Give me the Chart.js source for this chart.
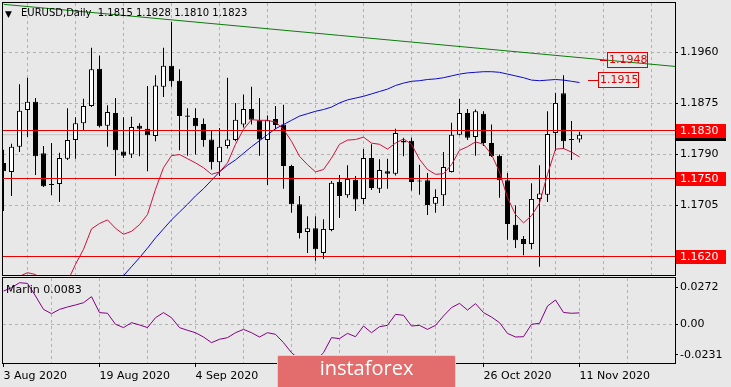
<!DOCTYPE html>
<html><head><meta charset="utf-8">
<script src="https://cdn.jsdelivr.net/npm/chart.js@4.4.1/dist/chart.umd.min.js"></script>
<style>
html,body{margin:0;padding:0;background:#e8e8e8;width:731px;height:387px;overflow:hidden;position:relative;}
canvas{position:absolute;left:0;}
#main{top:0}
#sub{top:276px}
.t{position:absolute;font-family:"DejaVu Sans",sans-serif;color:#000;white-space:pre;}
#wm{position:absolute;left:277px;top:355px;width:177px;height:36px;background:#e36c6c;border:1px solid #f3c9c9;border-radius:2px;}
#wmt{position:absolute;left:277px;top:357px;width:179px;text-align:center;font:20px "Open Sans",sans-serif;line-height:22px;color:#fff;}
</style></head>
<body>
<canvas id="main" width="731" height="276"></canvas>
<canvas id="sub" width="731" height="111"></canvas>
<div class="t" style="left:5px;top:8px;font-size:9px;line-height:12px;">▼</div>
<div class="t" id="title" style="left:21px;top:7px;font-size:10px;line-height:12px;"></div>
<div class="t" id="mlab" style="left:6px;top:283px;font-size:11px;line-height:13px;"></div>
<div id="wm"></div>
<div id="wmt">instaforex</div>
<script>
// ---------------- data ----------------
const symbol = 'EURUSD,Daily';
const opens = [1.1776,1.1761,1.1803,1.1864,1.1878,1.1792,1.1739,1.1741,1.1783,1.1814,
1.1842,1.1871,1.1933,1.1838,1.1859,1.1795,1.1790,1.1838,1.1833,1.1821,
1.1903,1.1938,1.1913,1.1855,1.1851,1.1841,1.1815,1.1777,1.1804,1.1814,
1.1840,1.1866,1.1847,1.1814,1.1849,1.1840,1.1771,1.1707,1.1661,1.1667,
1.1626,1.1664,1.1744,1.1722,1.1748,1.1716,1.1784,1.1733,1.1762,1.1758,
1.1813,1.1813,1.1745,1.1747,1.1708,1.1722,1.1761,1.1823,1.1859,1.1819,
1.1858,1.1809,1.1788,1.1747,1.1673,1.1649,1.1641,1.1716,1.1723,1.1826,
1.1892,1.1816,1.1815];
const highs = [1.1798,1.1808,1.1907,1.1918,1.1884,1.1804,1.1809,1.1793,1.1867,1.1852,
1.1883,1.1968,1.1955,1.1872,1.1884,1.1852,1.1853,1.1842,1.1904,1.1922,
1.1968,1.2011,1.1932,1.1867,1.1867,1.1850,1.1829,1.1834,1.1918,1.1876,
1.1890,1.1903,1.1884,1.1855,1.1871,1.1873,1.1773,1.1721,1.1687,1.1687,
1.1682,1.1746,1.1756,1.1772,1.1754,1.1799,1.1807,1.1782,1.1783,1.1833,
1.1818,1.1818,1.1773,1.1759,1.1732,1.1794,1.1843,1.1883,1.1866,1.1865,
1.1862,1.1840,1.1790,1.1759,1.1705,1.1654,1.1742,1.1772,1.1862,1.1893,
1.1922,1.1846,1.1828];
const lows = [1.1696,1.1721,1.1794,1.1819,1.1756,1.1736,1.1722,1.1711,1.1781,1.1783,
1.1829,1.1869,1.1835,1.1803,1.1754,1.1784,1.1784,1.1787,1.1762,1.1812,
1.1886,1.1903,1.1797,1.1788,1.1790,1.1803,1.1765,1.1754,1.1800,1.1812,
1.1835,1.1840,1.1788,1.1739,1.1832,1.1733,1.1693,1.1650,1.1626,1.1613,
1.1616,1.1662,1.1684,1.1718,1.1696,1.1707,1.1731,1.1726,1.1733,1.1755,
1.1787,1.1730,1.1723,1.1689,1.1693,1.1704,1.1760,1.1822,1.1814,1.1788,
1.1804,1.1786,1.1718,1.1648,1.1634,1.1622,1.1632,1.1603,1.1711,1.1796,
1.1799,1.1781,1.1810];
const closes = [1.1762,1.1803,1.1863,1.1878,1.1787,1.1737,1.1740,1.1784,1.1814,1.1842,
1.1871,1.1932,1.1837,1.1861,1.1797,1.1788,1.1836,1.1833,1.1822,1.1905,
1.1938,1.1912,1.1854,1.1853,1.1837,1.1814,1.1777,1.1803,1.1815,1.1848,
1.1866,1.1848,1.1815,1.1847,1.1839,1.1771,1.1707,1.1659,1.1667,1.1632,
1.1666,1.1743,1.1721,1.1749,1.1715,1.1784,1.1734,1.1764,1.1758,1.1826,
1.1810,1.1744,1.1746,1.1706,1.1719,1.1769,1.1823,1.1859,1.1818,1.1862,
1.1809,1.1787,1.1747,1.1674,1.1647,1.1641,1.1716,1.1725,1.1824,1.1876,
1.1812,1.1814,1.1823];
const redMA = [1.1565,1.1576,1.1587,1.1593,1.1590,1.1579,1.1566,1.1562,1.1578,1.1607,
1.1632,1.1666,1.1675,1.1681,1.1667,1.1657,1.1662,1.1673,1.1690,1.1732,
1.1768,1.1788,1.1790,1.1783,1.1776,1.1768,1.1757,1.1761,1.1776,1.1807,
1.1832,1.1848,1.1847,1.1847,1.1844,1.1832,1.1812,1.1787,1.1773,1.1761,
1.1765,1.1784,1.1807,1.1814,1.1815,1.1819,1.1809,1.1807,1.1799,1.1809,
1.1816,1.1807,1.1782,1.1765,1.1757,1.1758,1.1773,1.1797,1.1803,1.1811,
1.1807,1.1790,1.1761,1.1718,1.1690,1.1676,1.1688,1.1709,1.1757,1.1799,
1.1800,1.1794,1.1786];
const blueMA = [null,null,null,null,null,null,null,null,null,null,
null,null,null,null,null,1.1588,1.1603,1.1618,1.1634,1.1651,
1.1666,1.1681,1.1694,1.1707,1.1721,1.1733,1.1747,1.1761,1.1772,1.1781,
1.1792,1.1803,1.1813,1.1823,1.1833,1.1840,1.1847,1.1854,1.1858,1.1862,
1.1865,1.1869,1.1876,1.1881,1.1884,1.1887,1.1891,1.1895,1.1899,1.1905,
1.1909,1.1912,1.1913,1.1915,1.1916,1.1918,1.1921,1.1924,1.1926,1.1927,
1.1928,1.1928,1.1927,1.1924,1.1921,1.1918,1.1914,1.1913,1.1914,1.1915,
1.1914,1.1912,1.1910];
const marlin = [0.0246,0.0271,0.0308,0.0303,0.0209,0.0109,0.0077,0.0109,0.0127,0.0142,
0.0159,0.0204,0.0085,0.0080,-0.0002,-0.0027,0.0010,-0.0007,-0.0027,0.0047,
0.0085,0.0047,-0.0027,-0.0047,-0.0065,-0.0097,-0.0139,-0.0114,-0.0102,-0.0065,
-0.0040,-0.0065,-0.0097,-0.0065,-0.0077,-0.0139,-0.0214,-0.0264,-0.0294,-0.0276,
-0.0214,-0.0102,-0.0109,-0.0070,-0.0095,-0.0015,-0.0065,-0.0020,-0.0010,0.0072,
0.0065,-0.0015,-0.0010,-0.0040,-0.0010,0.0060,0.0122,0.0154,0.0104,0.0152,
0.0085,0.0052,0.0010,-0.0070,-0.0097,-0.0095,-0.0002,0.0005,0.0134,0.0179,
0.0086,0.0080,0.0083];
const levels = [1.1830, 1.1750, 1.1620];
const trendStart = 1.20403, trendEnd = 1.19367;   // trend line at first / last chart column
const trendLabel = 1.1948;
const maLabel = 1.1915;
const priceTicks = [1.1960, 1.1875, 1.1790, 1.1705, 1.1620];
const subTicks = [0.0272, 0, -0.0231];
const subTickLabels = ['0.0272', '0.00', '-0.0231'];
const dateTickIdx = [0, 12, 24, 36, 48, 60, 72];
const dateLabels = ['3 Aug 2020','19 Aug 2020','4 Sep 2020','22 Sep 2020','8 Oct 2020','26 Oct 2020','11 Nov 2020'];
const marlinLabel = 'Marlin 0.0083';

// ---------------- setup ----------------
const N = closes.length;
const last = N - 1;
const bid = closes[last];
document.getElementById('title').textContent = symbol + '  ' + [opens[last],highs[last],lows[last],closes[last]].map(v=>v.toFixed(4)).join(' ');
document.getElementById('mlab').textContent = marlinLabel;

Chart.defaults.font.family = '"DejaVu Sans", sans-serif';
Chart.defaults.font.size = 11;
Chart.defaults.color = '#000';

const GRID = '#b2b2b2';
const XMIN = -1/16, XMAX = 84 - 1/16;
const gridIdx = []; for (let k = 0; k <= 78; k += 6) gridIdx.push(k);
const pts = arr => arr.map((v,i)=>({x:i, y:v}));

const framePlugin = {
  id:'frame',
  afterDraw(chart){
    const {ctx, chartArea:a} = chart;
    ctx.save();
    ctx.strokeStyle = '#000'; ctx.lineWidth = 1; ctx.setLineDash([]);
    ctx.strokeRect(a.left - 0.5, a.top - 0.5, a.right - a.left + 1, a.bottom - a.top + 1);
    ctx.restore();
  }
};

const tagPlugin = {
  id:'tags',
  afterDraw(chart){
    const {ctx, chartArea:a} = chart;
    const ys = chart.scales.y, xs = chart.scales.x;
    ctx.save();
    ctx.font = '11px "DejaVu Sans"';
    ctx.textBaseline = 'middle'; ctx.textAlign = 'left';
    // current price tag (mostly hidden)
    let py = Math.round(ys.getPixelForValue(bid));
    ctx.fillStyle = '#000'; ctx.fillRect(a.right + 1, py - 6, 50, 12);
    ctx.fillStyle = '#fff'; ctx.fillText(bid.toFixed(4), a.right + 5, py);
    levels.forEach(v => {
      const p = Math.round(ys.getPixelForValue(v) - 0.5);
      ctx.fillStyle = '#f00'; ctx.fillRect(a.right + 1, p - 6, 50, 14);
      ctx.fillStyle = '#fff'; ctx.fillText(v.toFixed(4), a.right + 5, p + 1);
    });
    // boxed labels
    const box = (val, i0, i1) => {
      const p = Math.round(ys.getPixelForValue(val));
      const x0 = Math.round(xs.getPixelForValue(i0)), x1 = Math.round(xs.getPixelForValue(i1));
      ctx.strokeStyle = '#e00000'; ctx.lineWidth = 1;
      ctx.beginPath(); ctx.moveTo(x0, p + 0.5); ctx.lineTo(x1, p + 0.5); ctx.stroke();
      ctx.strokeRect(x1 + 0.5, p - 7.5, 40, 15);
      ctx.fillStyle = '#e00000'; ctx.fillText(val.toFixed(4), x1 + 2, p + 0.5);
    };
    box(trendLabel, 74.6, 75.4);
    box(maLabel, 73.1, 74.25);
    ctx.restore();
  }
};

const common = {
  responsive:false, animation:false, devicePixelRatio:1, events:[],
  plugins:{legend:{display:false}, tooltip:{enabled:false}}
};

const yMax = 1.1960 + 49.5/6000, yMin = yMax - 272/6000;

new Chart(document.getElementById('main'), {
  type:'line',
  data:{datasets:[
    {type:'line', data:[{x:0,y:trendStart},{x:84,y:trendEnd}], borderColor:'#0a7d0a', borderWidth:1, pointRadius:0, order:0},
    ...levels.map(v => ({type:'line', data:[{x:-1,y:v},{x:85,y:v}], borderColor:'#e80000', borderWidth:1, pointRadius:0, order:1})),
    {type:'line', data:pts(redMA), borderColor:'#c8143c', borderWidth:1, pointRadius:0, order:2},
    {type:'line', data:pts(blueMA), borderColor:'#0a0ac8', borderWidth:1, pointRadius:0, order:2},
    {type:'bar', data:opens.map((o,i)=>({x:i, y:[o, closes[i]]})),
      backgroundColor:closes.map((c,i)=> c > opens[i] ? '#ffffff' : '#000000'),
      borderColor:'#000', borderWidth:1, borderSkipped:false, barThickness:5, grouped:false, minBarLength:1, inflateAmount:0, order:4},
    {type:'bar', data:lows.map((l,i)=>({x:i, y:[l, highs[i]]})),
      backgroundColor:'#000', borderWidth:0, barThickness:1, grouped:false, inflateAmount:0, order:5},
    {type:'line', data:[{x:-1,y:bid},{x:85,y:bid}], borderColor:'#c6c6c6', borderWidth:1, pointRadius:0, order:6}
  ]},
  options:{...common,
    layout:{padding:{left:3, top:3, right:0, bottom:1}},
    scales:{
      x:{type:'linear', min:XMIN, max:XMAX, bounds:'data', offset:false,
        afterBuildTicks:s=>{ s.ticks = gridIdx.filter(v=>v>0).map(v=>({value:v})); },
        afterFit:s=>{ s.height = 0; s.paddingLeft = 0; s.paddingRight = 0; },
        ticks:{display:false},
        grid:{color:GRID, drawTicks:false, lineWidth:1},
        border:{display:false, dash:[3,3]}
      },
      y:{type:'linear', position:'right', min:yMin, max:yMax, bounds:'data',
        afterBuildTicks:s=>{ s.ticks = priceTicks.map(v=>({value:v})); },
        afterFit:s=>{ s.width = 56; s.paddingTop = 0; s.paddingBottom = 0; },
        ticks:{autoSkip:false, padding:2, callback:v=>Number(v).toFixed(4)},
        grid:{color:GRID, tickColor:'#000', tickLength:3, lineWidth:1},
        border:{display:true, color:'#000', dash:[3,3]}
      }
    }
  },
  plugins:[framePlugin, tagPlugin]
});

const subMax = 46/1340, subMin = subMax - 85/1340;
const labelFor = v => { const k = dateTickIdx.indexOf(v); return k >= 0 ? dateLabels[k] : ''; };

new Chart(document.getElementById('sub'), {
  type:'line',
  data:{datasets:[{data:pts(marlin), borderColor:'#800080', borderWidth:1, pointRadius:0}]},
  options:{...common,
    layout:{padding:{left:3, top:2, right:0, bottom:0}},
    scales:{
      x:{type:'linear', min:XMIN, max:XMAX, bounds:'data', offset:false,
        afterBuildTicks:s=>{ s.ticks = gridIdx.map(v=>({value:v})); },
        afterFit:s=>{ s.height = 24; s.paddingLeft = 0; s.paddingRight = 0; },
        ticks:{autoSkip:false, maxRotation:0, minRotation:0, align:'start', padding:3, callback:v=>labelFor(v)},
        grid:{color:c=> (c.tick && c.tick.value === 0) ? 'rgba(0,0,0,0)' : GRID,
              tickColor:c=> (c.tick && labelFor(c.tick.value)) ? '#000' : 'rgba(0,0,0,0)', tickLength:4, lineWidth:1},
        border:{display:true, color:'#000', dash:[3,3]}
      },
      y:{type:'linear', position:'right', min:subMin, max:subMax, bounds:'data',
        afterBuildTicks:s=>{ s.ticks = subTicks.map(v=>({value:v})); },
        afterFit:s=>{ s.width = 56; s.paddingTop = 0; s.paddingBottom = 0; },
        ticks:{autoSkip:false, padding:2, callback:v=>{ const k = subTicks.indexOf(v); return k >= 0 ? subTickLabels[k] : ''; }},
        grid:{color:c=> (c.tick && c.tick.value === 0) ? GRID : 'rgba(0,0,0,0)', tickColor:'#000', tickLength:3, lineWidth:1},
        border:{display:true, color:'#000', dash:[3,3]}
      }
    }
  },
  plugins:[framePlugin]
});
</script>
</body></html>
